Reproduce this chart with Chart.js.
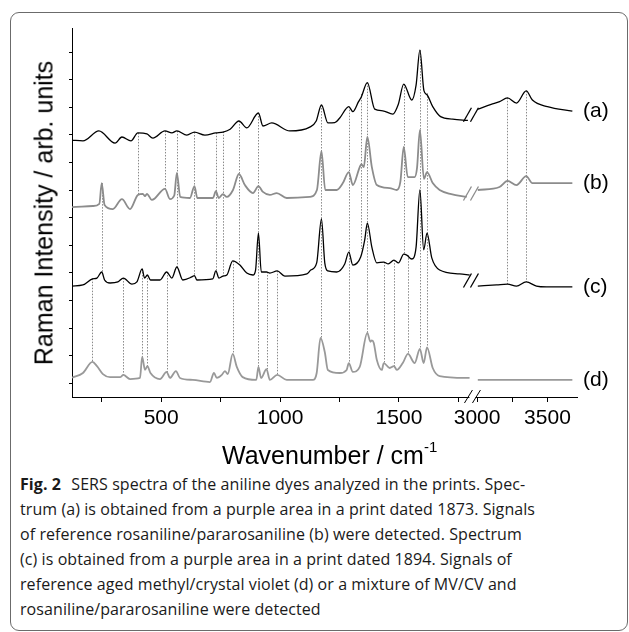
<!DOCTYPE html>
<html>
<head>
<meta charset="utf-8">
<script src="https://cdn.jsdelivr.net/npm/chart.js@4.4.1/dist/chart.umd.min.js"></script>
<style>
  html, body { margin: 0; padding: 0; background: #fff; }
  body { width: 629px; height: 632px; position: relative; overflow: hidden; font-family: "Liberation Sans", Arial, sans-serif; }
  #frame { position: absolute; left: 10px; top: 12px; width: 618px; height: 619px; border: 1px solid #6b6b6b; border-radius: 9px; box-sizing: border-box; }
  #wrap { position: absolute; left: 0; top: 0; width: 629px; height: 440px; }
  .ytitle { position: absolute; left: 44px; top: 213px; font-size: 25px; line-height: 25px; white-space: nowrap; transform: translate(-50%, -50%) rotate(-90deg); }
  .xtitle { position: absolute; left: 222px; top: 437px; font-size: 25px; line-height: 25px; white-space: nowrap; }
  .xtitle sup { font-size: 15px; position: relative; top: -3px; }
  .caption { position: absolute; left: 20px; top: 472px; font-family: "Open Sans", sans-serif; font-size: 16px; line-height: 25px; letter-spacing: 0.08px; color: #1a1a1a; }
  .caption div { white-space: nowrap; }
  .caption b { font-weight: 700; margin-right: 6px; }
</style>
</head>
<body>
<div id="frame"></div>
<div id="wrap"><canvas id="spectra"></canvas></div>
<div class="ytitle">Raman Intensity / arb. units</div>
<div class="xtitle">Wavenumber / cm<sup>-1</sup></div>
<div class="caption">
  <div><b>Fig. 2</b> SERS spectra of the aniline dyes analyzed in the prints. Spec-</div>
  <div>trum (a) is obtained from a purple area in a print dated 1873. Signals</div>
  <div>of reference rosaniline/pararosaniline (b) were detected. Spectrum</div>
  <div>(c) is obtained from a purple area in a print dated 1894. Signals of</div>
  <div>reference aged methyl/crystal violet (d) or a mixture of MV/CV and</div>
  <div>rosaniline/pararosaniline were detected</div>
</div>
<script>
// spectra: [wavenumber, intensity (offset units)]
// points below 1800 belong to the left part of the axis, above 3000 to the right part
const specA = [
  [125, 8.81], [171, 8.78], [238, 9.14], [306, 8.70], [335, 8.92], [373, 8.78],
  [402, 9.07], [440, 9.03], [465, 8.88], [516, 9.14], [545, 9.07], [566, 9.14],
  [608, 8.99], [640, 9.10], [684, 8.99], [730, 9.07], [760, 9.10], [790, 9.20],
  [827, 9.50], [860, 9.25], [909, 9.79], [928, 9.32], [965, 9.43], [1041, 9.14],
  [1125, 9.28], [1152, 9.50], [1174, 10.08], [1201, 9.43], [1230, 9.44], [1251, 9.61],
  [1289, 10.02], [1306, 9.84], [1330, 10.20], [1342, 10.38], [1367, 10.89], [1398, 9.93],
  [1432, 9.87], [1474, 9.75], [1497, 10.10], [1520, 10.84], [1554, 10.26], [1572, 10.80],
  [1588, 12.07], [1605, 10.60], [1618, 10.45], [1642, 10.02], [1675, 9.66], [1726, 9.57],
  [1790, 9.52],
  [3005, 9.93], [3100, 10.10], [3160, 10.20], [3216, 10.34], [3280, 10.15], [3349, 10.59],
  [3393, 10.26], [3500, 10.02], [3677, 9.86]
];
const specB = [
  [125, 6.38], [213, 6.42], [240, 6.50], [250, 7.25], [262, 6.46], [297, 6.31],
  [335, 6.67], [369, 6.31], [402, 6.82], [423, 6.86], [432, 6.78], [440, 6.86],
  [461, 6.64], [516, 7.04], [537, 6.67], [555, 6.80], [566, 7.62], [580, 6.75],
  [621, 6.71], [640, 7.14], [652, 6.71], [718, 6.71], [730, 6.96], [742, 6.71],
  [760, 6.85], [776, 6.75], [802, 7.00], [827, 7.58], [852, 7.18], [886, 6.89],
  [909, 7.14], [928, 6.93], [957, 6.82], [986, 6.89], [1028, 6.71], [1125, 6.75],
  [1155, 7.00], [1174, 8.41], [1190, 7.00], [1238, 7.00], [1264, 7.25], [1289, 7.65],
  [1306, 7.18], [1335, 7.83], [1342, 7.94], [1352, 7.83], [1367, 8.92], [1386, 7.83],
  [1407, 7.18], [1461, 7.07], [1491, 7.00], [1506, 7.30], [1520, 8.56], [1537, 7.47],
  [1566, 7.47], [1576, 7.80], [1588, 9.17], [1605, 7.40], [1618, 7.65], [1642, 7.25],
  [1671, 7.00], [1720, 6.85], [1785, 6.75],
  [3005, 7.00], [3159, 7.11], [3216, 7.33], [3280, 7.18], [3349, 7.50], [3393, 7.25],
  [3500, 7.25], [3677, 7.25]
];
const specC = [
  [125, 3.52], [171, 3.56], [211, 3.78], [230, 3.81], [250, 4.03], [262, 3.74],
  [285, 3.63], [318, 3.67], [341, 3.81], [377, 3.59], [398, 3.67], [420, 4.14],
  [430, 3.81], [442, 3.92], [455, 3.74], [495, 3.74], [523, 4.03], [545, 3.81],
  [566, 4.21], [591, 3.74], [629, 3.85], [640, 3.90], [650, 3.74], [717, 3.78],
  [730, 4.07], [743, 3.81], [760, 3.88], [776, 3.92], [801, 4.43], [831, 4.28],
  [860, 3.99], [886, 3.92], [897, 4.10], [909, 5.44], [921, 4.03], [943, 4.03],
  [957, 3.99], [988, 4.07], [1020, 3.88], [1113, 3.96], [1129, 4.10], [1154, 4.36],
  [1174, 5.95], [1188, 4.36], [1201, 4.07], [1238, 4.03], [1272, 4.32], [1289, 4.75],
  [1306, 4.28], [1339, 4.57], [1356, 5.19], [1367, 5.80], [1386, 4.93], [1407, 4.36],
  [1436, 4.39], [1455, 4.32], [1479, 4.46], [1498, 4.36], [1520, 4.68], [1533, 4.64],
  [1554, 4.50], [1572, 4.93], [1588, 7.00], [1604, 4.83], [1618, 5.44], [1638, 4.54],
  [1671, 4.10], [1755, 3.96], [1797, 3.92],
  [3005, 3.52], [3138, 3.56], [3216, 3.59], [3280, 3.52], [3349, 3.67], [3422, 3.52],
  [3493, 3.49], [3677, 3.49]
];
const specD = [
  [125, 0.20], [171, 0.37], [211, 0.77], [230, 0.62], [255, 0.33], [285, 0.22],
  [327, 0.22], [341, 0.30], [369, 0.15], [411, 0.19], [420, 0.95], [432, 0.48],
  [442, 0.62], [455, 0.37], [495, 0.15], [523, 0.41], [537, 0.19], [562, 0.44],
  [579, 0.19], [633, 0.12], [705, 0.04], [722, 0.37], [734, 0.19], [755, 0.30],
  [768, 0.44], [780, 0.33], [801, 1.06], [818, 0.59], [843, 0.22], [900, 0.12],
  [909, 0.59], [920, 0.19], [943, 0.51], [957, 0.12], [988, 0.30], [1028, 0.12],
  [1138, 0.12], [1154, 0.37], [1170, 1.64], [1188, 1.13], [1201, 0.48], [1251, 0.37],
  [1280, 0.48], [1289, 0.73], [1306, 0.41], [1335, 0.59], [1367, 1.82], [1380, 1.50],
  [1386, 1.55], [1394, 1.46], [1407, 0.84], [1428, 0.48], [1436, 0.73], [1461, 0.55],
  [1479, 0.62], [1491, 0.48], [1516, 0.73], [1538, 1.06], [1566, 0.73], [1588, 1.24],
  [1604, 0.73], [1618, 1.30], [1642, 0.55], [1671, 0.26], [1797, 0.19],
  [3005, 0.12], [3351, 0.12], [3677, 0.12]
];

const spectrumNames = ['(a)', '(b)', '(c)', '(d)'];
const spectrumColors = ['#000', '#8c8c8c', '#000', '#999'];
const spectrumWidths = [1.3, 1.8, 1.3, 1.8];

// dotted guide lines between neighbouring spectra (wavenumbers)
const linksAB = [402, 516, 566, 640, 730, 760, 827, 909, 1174, 1289, 1342, 1367, 1520, 1588, 1618, 3216, 3349];
const linksBC = [250, 566, 640, 730, 760, 827, 909, 1174, 1289, 1342, 1367, 1520, 1588, 1618, 3216, 3349];
const linksCD = [211, 341, 420, 442, 523, 801, 909, 943, 988, 1174, 1289, 1367, 1436, 1479, 1538, 1588, 1618];

const xTicks = [250, 500, 750, 1000, 1250, 1500, 1750, 3000, 3250, 3500];
const xLabels = [500, 1000, 1500, 3000, 3500];
const yTicks = [0, 1, 2, 3, 4, 5, 6, 7, 8, 9, 10, 11, 12];

// broken x axis: two wavenumber ranges sharing one scale
const lowRange = [125, 1790];
const highRange = [2985, 3710];
const splitAt = [0.784, 0.798];

class BrokenScale extends Chart.LinearScale {
  getPixelForValue(value) {
    let f;
    if (value <= (lowRange[1] + highRange[0]) / 2) {
      f = (value - lowRange[0]) / (lowRange[1] - lowRange[0]) * splitAt[0];
    } else {
      f = splitAt[1] + (value - highRange[0]) / (highRange[1] - highRange[0]) * (1 - splitAt[1]);
    }
    return this.left + f * this.width;
  }
  getValueForPixel(pixel) {
    const f = (pixel - this.left) / this.width;
    if (f <= splitAt[0]) return lowRange[0] + f / splitAt[0] * (lowRange[1] - lowRange[0]);
    return highRange[0] + (f - splitAt[1]) / (1 - splitAt[1]) * (highRange[1] - highRange[0]);
  }
}
BrokenScale.id = 'broken';
BrokenScale.defaults = Chart.LinearScale.defaults;
Chart.register(BrokenScale);

const spectra = [specA, specB, specC, specD];
const lowPart = spec => spec.filter(p => p[0] < 2000);
const highPart = spec => spec.filter(p => p[0] > 2000);

function valueAt(spec, wn) {
  for (let i = 0; i < spec.length - 1; i++) {
    const [x0, y0] = spec[i], [x1, y1] = spec[i + 1];
    if (wn >= x0 && wn <= x1 && x1 - x0 < 500) {
      return y0 + (y1 - y0) * (wn - x0) / (x1 - x0);
    }
  }
  return null;
}
function peakAt(spec, wn) {
  let best = null;
  for (let d = -5; d <= 5; d++) {
    const v = valueAt(spec, wn + d);
    if (v != null && (best == null || v > best)) best = v;
  }
  return best;
}

const guideLines = {
  id: 'guideLines',
  beforeDatasetsDraw(chart) {
    const { ctx, scales: { x, y } } = chart;
    ctx.save();
    ctx.strokeStyle = '#8a8a8a';
    ctx.lineWidth = 1;
    ctx.setLineDash([1.5, 1.5]);
    [[specA, specB, linksAB], [specB, specC, linksBC], [specC, specD, linksCD]].forEach(([up, low, list]) => {
      list.forEach(wn => {
        const top = peakAt(up, wn), bottom = peakAt(low, wn);
        if (top == null || bottom == null) return;
        const px = Math.round(x.getPixelForValue(wn)) + 0.5;
        ctx.beginPath();
        ctx.moveTo(px, y.getPixelForValue(top));
        ctx.lineTo(px, y.getPixelForValue(bottom));
        ctx.stroke();
      });
    });
    ctx.restore();
  }
};

const breakMarks = {
  id: 'breakMarks',
  afterDraw(chart) {
    const { ctx, chartArea, scales: { x, y } } = chart;
    const bx = (x.getPixelForValue(lowRange[1]) + x.getPixelForValue(highRange[0])) / 2;
    ctx.save();
    ctx.setLineDash([]);
    // spectra (a)-(c)
    [0, 1, 2].forEach(i => {
      const spec = spectra[i];
      const endLow = lowPart(spec).pop();
      const startHigh = highPart(spec)[0];
      const cy = (y.getPixelForValue(endLow[1]) + y.getPixelForValue(startHigh[1])) / 2;
      ctx.strokeStyle = spectrumColors[i];
      ctx.lineWidth = 1.3;
      [-4, 3].forEach(off => {
        ctx.beginPath();
        ctx.moveTo(bx + off - 4, cy + 7);
        ctx.lineTo(bx + off + 4, cy - 7);
        ctx.stroke();
      });
    });
    // x axis
    const ay = chartArea.bottom;
    ctx.fillStyle = '#fff';
    ctx.fillRect(bx - 2, ay - 2, 6, 4);
    ctx.strokeStyle = '#000';
    ctx.lineWidth = 1;
    [-2, 6].forEach(off => {
      ctx.beginPath();
      ctx.moveTo(bx + off - 5, ay + 6);
      ctx.lineTo(bx + off + 3, ay - 7);
      ctx.stroke();
    });
    ctx.restore();
  }
};

const spectrumLabels = {
  id: 'spectrumLabels',
  afterDatasetsDraw(chart) {
    const { ctx, chartArea, scales: { y } } = chart;
    ctx.save();
    ctx.font = '21px "Liberation Sans", Arial, sans-serif';
    ctx.fillStyle = '#000';
    ctx.textBaseline = 'middle';
    spectra.forEach((spec, i) => {
      const last = spec[spec.length - 1];
      ctx.fillText(spectrumNames[i], chartArea.right + 6, y.getPixelForValue(last[1]));
    });
    ctx.restore();
  }
};

const toPoints = part => part.map(([wn, v]) => ({ x: wn, y: v }));
const datasets = [];
spectra.forEach((spec, i) => {
  [lowPart(spec), highPart(spec)].forEach(part => {
    datasets.push({
      label: spectrumNames[i],
      data: toPoints(part),
      borderColor: spectrumColors[i],
      borderWidth: spectrumWidths[i]
    });
  });
});

new Chart(document.getElementById('spectra'), {
  type: 'line',
  data: { datasets },
  options: {
    responsive: true,
    maintainAspectRatio: false,
    animation: false,
    events: [],
    layout: { padding: { top: 28, right: 52, left: 0, bottom: 0 } },
    elements: {
      point: { radius: 0 },
      line: { cubicInterpolationMode: 'monotone', fill: false }
    },
    plugins: { legend: { display: false }, tooltip: { enabled: false } },
    scales: {
      x: {
        type: 'broken',
        min: lowRange[0],
        max: highRange[1],
        afterBuildTicks: s => { s.ticks = xTicks.map(v => ({ value: v })); },
        afterFit: s => { s.height = 43; },
        border: { color: '#000', width: 1 },
        grid: { drawOnChartArea: false, drawTicks: true, tickLength: 5, color: '#000' },
        ticks: {
          autoSkip: false,
          maxRotation: 0,
          padding: 4,
          color: '#000',
          font: { family: '"Liberation Sans", Arial, sans-serif', size: 21 },
          callback: v => xLabels.includes(v) ? String(v) : ''
        }
      },
      y: {
        min: -0.5,
        max: 12.87,
        afterBuildTicks: s => { s.ticks = yTicks.map(v => ({ value: v })); },
        afterFit: s => { s.width = 72; },
        border: { color: '#000', width: 1 },
        grid: { drawOnChartArea: false, drawTicks: true, tickLength: 3, color: '#000' },
        ticks: { display: false }
      }
    }
  },
  plugins: [guideLines, breakMarks, spectrumLabels]
});
</script>
</body>
</html>
